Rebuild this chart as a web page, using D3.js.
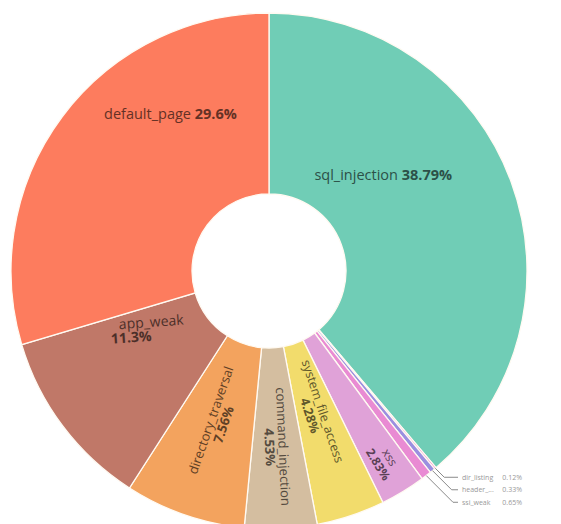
<!DOCTYPE html>
<html>
<head>
<meta charset="utf-8">
<script src="https://cdn.jsdelivr.net/npm/d3@7"></script>
<style>
  body { margin: 0; background: #fff; }
  svg { display: block; font-family: "Open Sans", sans-serif; }
</style>
</head>
<body>
<div id="chart"></div>
<script>
// slices, clockwise from 12 o'clock
const categories = ['sql_injection', 'dir_listing', 'header_...', 'ssi_weak', 'xss',
  'system_file_access', 'command_injection', 'directory_traversal', 'app_weak', 'default_page'];
const values = [38.79, 0.12, 0.33, 0.65, 2.83, 4.28, 4.53, 7.56, 11.3, 29.6];
const percentLabels = ['38.79%', '0.12%', '0.33%', '0.65%', '2.83%', '4.28%', '4.53%', '7.56%', '11.3%', '29.6%'];
const colors = ['#70cdb6', '#f08ccc', '#9b8fe0', '#e98bd3', '#e0a2d8',
  '#f2dc6c', '#d4bea0', '#f3a35e', '#c07868', '#fd7c5e'];

// how each label is placed (angle in degrees from top, radius from centre)
const labelStyle = {
  'sql_injection':       { mode: 'line', angle: 49.6, r: 150, size: 14.5 },
  'default_page':        { mode: 'line', angle: 328, r: 186, size: 14.5 },
  'app_weak':            { mode: 'stack', angle: 245.5, r: 140, size: 14 },
  'directory_traversal': { mode: 'radial', r: 160, size: 13 },
  'command_injection':   { mode: 'radial', r: 176, size: 13 },
  'system_file_access':  { mode: 'radial', r: 150, size: 12.5 },
  'xss':                 { mode: 'radial', r: 222, size: 12 },
  'dir_listing':         { mode: 'out' },
  'header_...':          { mode: 'out' },
  'ssi_weak':            { mode: 'out' }
};

var width = 561, height = 524;
var cx = 269, cy = 271;
var outerR = 258, innerR = 77;

var data = categories.map((c, i) => ({ name: c, value: values[i], pct: percentLabels[i], color: colors[i] }));

var svg = d3.select('#chart').append('svg')
  .attr('width', width)
  .attr('height', height);

var g = svg.append('g').attr('transform', 'translate(' + cx + ',' + cy + ')');

var pie = d3.pie().sort(null).value(d => d.value);
var arcs = pie(data);

var arc = d3.arc().innerRadius(innerR).outerRadius(outerR);

g.selectAll('path.slice')
  .data(arcs)
  .enter()
  .append('path')
    .attr('class', 'slice')
    .attr('d', arc)
    .attr('fill', d => d.data.color)
    .attr('stroke', '#fffaf2')
    .attr('stroke-width', 1.3);

function polar(angleDeg, r) {
  var a = angleDeg * Math.PI / 180;
  return [Math.sin(a) * r, -Math.cos(a) * r];
}

function textColor(c) {
  return d3.color(c).darker(2.6).formatHex();
}

// inside labels
arcs.forEach(function(d) {
  var st = labelStyle[d.data.name];
  var mid = (d.startAngle + d.endAngle) / 2 * 180 / Math.PI;
  var fill = textColor(d.data.color);
  var fs = st.size + 'px';

  if (st.mode === 'line') {
    var p = polar(st.angle, st.r);
    var t = g.append('text')
      .attr('x', p[0]).attr('y', p[1])
      .attr('text-anchor', 'middle')
      .attr('dominant-baseline', 'central')
      .style('font-size', fs)
      .attr('fill', fill);
    t.append('tspan').text(d.data.name + ' ');
    t.append('tspan').attr('font-weight', 'bold').text(d.data.pct);
  } else if (st.mode === 'stack') {
    var p = polar(st.angle, st.r);
    var grp = g.append('g').attr('transform', 'translate(' + p[0] + ',' + p[1] + ') rotate(-4)');
    grp.append('text').attr('x', 10).attr('y', -7)
      .attr('text-anchor', 'middle').attr('dominant-baseline', 'central')
      .style('font-size', fs).attr('fill', fill).text(d.data.name);
    grp.append('text').attr('x', -11).attr('y', 7)
      .attr('text-anchor', 'middle').attr('dominant-baseline', 'central')
      .style('font-size', fs).attr('font-weight', 'bold').attr('fill', fill).text(d.data.pct);
  } else if (st.mode === 'radial') {
    var p = polar(mid, st.r);
    var rot = mid < 180 ? mid - 90 : mid - 270;
    var grp = g.append('g').attr('transform', 'translate(' + p[0] + ',' + p[1] + ') rotate(' + rot + ')');
    grp.append('text').attr('y', -6.5)
      .attr('text-anchor', 'middle').attr('dominant-baseline', 'central')
      .style('font-size', fs).attr('fill', fill).text(d.data.name);
    grp.append('text').attr('y', 7)
      .attr('text-anchor', 'middle').attr('dominant-baseline', 'central')
      .style('font-size', fs).attr('font-weight', 'bold').attr('fill', fill).text(d.data.pct);
  }
});

// outside labels for the tiny slices, with leader lines
var outside = arcs.filter(d => labelStyle[d.data.name].mode === 'out');
var firstY = null;
outside.forEach(function(d, i) {
  var mid = (d.startAngle + d.endAngle) / 2 * 180 / Math.PI;
  var s = polar(mid, outerR);
  if (firstY === null) firstY = s[1] + 9;
  var ly = firstY + i * 12.5;
  var ex = s[0] + (ly - s[1]);
  var lineEnd = 458 - cx;
  g.append('polyline')
    .attr('points', [s, [ex, ly], [lineEnd, ly]].map(q => q.join(',')).join(' '))
    .attr('fill', 'none')
    .attr('stroke', '#8a8a8a')
    .attr('stroke-width', 1);
  g.append('text')
    .attr('x', lineEnd + 4).attr('y', ly)
    .attr('dominant-baseline', 'central')
    .style('font-size', '7px').attr('fill', '#999')
    .text(d.data.name);
  g.append('text')
    .attr('x', 522 - cx).attr('y', ly)
    .attr('text-anchor', 'end')
    .attr('dominant-baseline', 'central')
    .style('font-size', '7px').attr('fill', '#999')
    .text(d.data.pct);
});
</script>
</body>
</html>
